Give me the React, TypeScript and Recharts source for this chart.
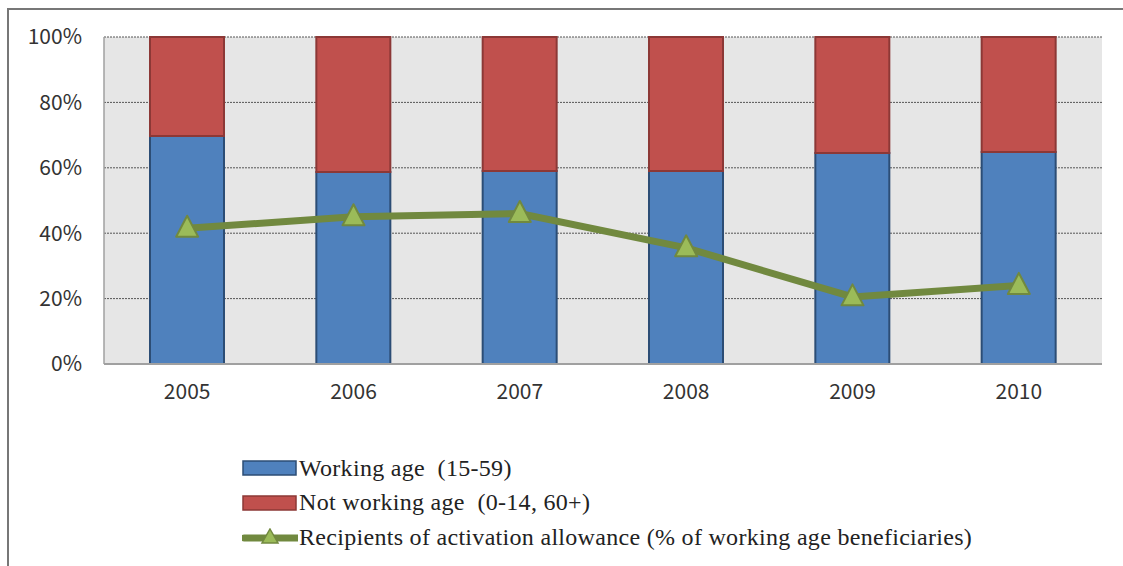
import React from "react";
import {
  ComposedChart,
  Bar,
  Line,
  XAxis,
  YAxis,
  CartesianGrid,
} from "recharts";

const years = ["2005", "2006", "2007", "2008", "2009", "2010"];
const workingAge = [69.7, 58.7, 59.0, 59.0, 64.5, 64.8];
const notWorkingAge = workingAge.map((v) => 100 - v);
const activationRecipients = [41.5, 45.0, 46.0, 35.5, 20.5, 24.0];
const yTicks = [0, 20, 40, 60, 80, 100];

const BLUE = "#4f81bd";
const BLUE_EDGE = "#2c4d75";
const RED = "#c0504d";
const RED_EDGE = "#8c3836";
const GREEN = "#9bbb59";
const GREEN_EDGE = "#71893f";

const data = years.map((year, i) => ({
  year,
  working: workingAge[i],
  notWorking: notWorkingAge[i],
  activation: activationRecipients[i],
}));

const legendItems = [
  { kind: "bar", fill: BLUE, stroke: BLUE_EDGE, label: "Working age  (15-59)" },
  { kind: "bar", fill: RED, stroke: RED_EDGE, label: "Not working age  (0-14, 60+)" },
  {
    kind: "line",
    fill: GREEN,
    stroke: GREEN_EDGE,
    label: "Recipients of activation allowance (% of working age beneficiaries)",
  },
];

const tickStyle = {
  fontFamily: "'Noto Sans CJK JP', 'DejaVu Sans', sans-serif",
  fontSize: 21,
  fill: "#333",
};

function Triangle(props: { cx?: number; cy?: number }) {
  const { cx, cy } = props;
  if (cx == null || cy == null) return null;
  const w = 11;
  const h = 21;
  return (
    <path
      d={`M${cx},${cy - h * 0.6} L${cx + w},${cy + h * 0.4} L${cx - w},${cy + h * 0.4} Z`}
      fill={GREEN}
      stroke={GREEN_EDGE}
      strokeWidth={2}
      strokeLinejoin="round"
    />
  );
}

function LegendSwatch({ item }: { item: (typeof legendItems)[number] }) {
  if (item.kind === "bar") {
    return (
      <svg width={56} height={18} style={{ display: "block" }}>
        <rect x={1} y={2} width={53} height={14} fill={item.fill} stroke={item.stroke} strokeWidth={1.5} />
      </svg>
    );
  }
  return (
    <svg width={56} height={18} style={{ display: "block" }}>
      <line x1={2} y1={10} x2={55} y2={10} stroke={item.stroke} strokeWidth={7} strokeLinecap="round" />
      <path d="M28,1 L36,15 L20,15 Z" fill={item.fill} stroke={item.stroke} strokeWidth={1.5} />
    </svg>
  );
}

export default function App() {
  return (
    <div
      style={{
        position: "fixed",
        left: 0,
        top: 0,
        width: 1123,
        height: 566,
        background: "#fff",
        overflow: "hidden",
      }}
    >
      <div
        style={{
          position: "absolute",
          left: 7,
          top: 8,
          right: -10,
          bottom: -10,
          borderTop: "2px solid #777",
          borderLeft: "2px solid #777",
        }}
      />
      <div style={{ position: "absolute", left: 0, top: 0 }}>
        <ComposedChart
          width={1123}
          height={420}
          data={data}
          margin={{ top: 37, right: 21, left: 8, bottom: 26 }}
          barCategoryGap="55%"
        >
          <CartesianGrid
            vertical={false}
            fill="#e6e6e6"
            stroke="#555"
            strokeDasharray="2 1"
            strokeWidth={1}
          />
          <XAxis
            dataKey="year"
            height={30}
            tick={tickStyle}
            tickLine={false}
            tickSize={0}
            tickMargin={20}
            axisLine={{ stroke: "#a0a0a0", strokeWidth: 2 }}
          />
          <YAxis
            width={96}
            domain={[0, 100]}
            ticks={yTicks}
            tick={tickStyle}
            tickFormatter={(v) => `${v}%`}
            tickLine={false}
            tickSize={0}
            tickMargin={22}
            axisLine={{ stroke: "#a0a0a0", strokeWidth: 1.5 }}
            interval={0}
          />
          <Bar
            dataKey="working"
            stackId="age"
            fill={BLUE}
            stroke={BLUE_EDGE}
            strokeWidth={2}
            barSize={74}
            isAnimationActive={false}
          />
          <Bar
            dataKey="notWorking"
            stackId="age"
            fill={RED}
            stroke={RED_EDGE}
            strokeWidth={2}
            barSize={74}
            isAnimationActive={false}
          />
          <Line
            dataKey="activation"
            type="linear"
            stroke={GREEN_EDGE}
            strokeWidth={7}
            dot={<Triangle />}
            activeDot={false}
            isAnimationActive={false}
          />
        </ComposedChart>
      </div>
      <div
        style={{
          position: "absolute",
          left: 242,
          top: 451,
          fontFamily: "'Liberation Serif', 'DejaVu Serif', serif",
          fontSize: 24,
          letterSpacing: 0.3,
          color: "#222",
        }}
      >
        {legendItems.map((item) => (
          <div
            key={item.label}
            style={{ display: "flex", alignItems: "center", height: 34.5, whiteSpace: "pre" }}
          >
            <LegendSwatch item={item} />
            <span style={{ marginLeft: 1 }}>{item.label}</span>
          </div>
        ))}
      </div>
    </div>
  );
}
